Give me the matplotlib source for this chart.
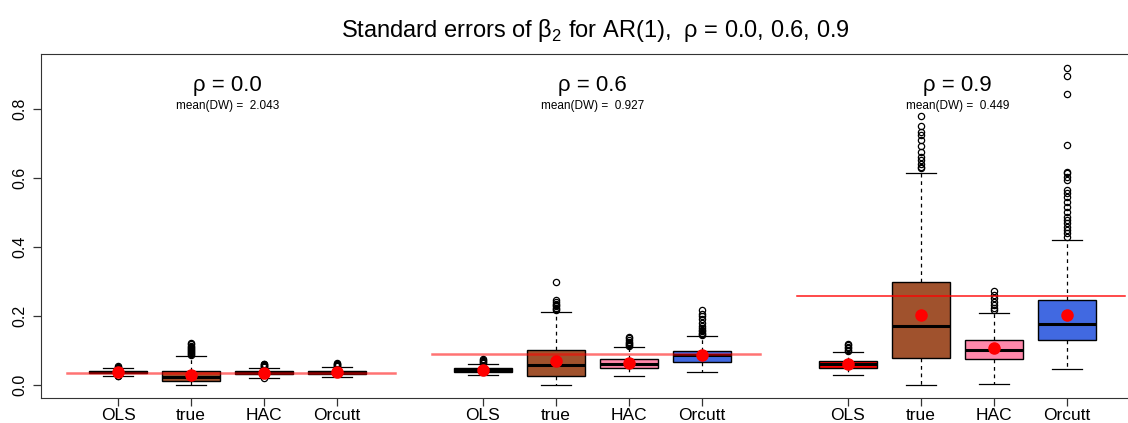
import matplotlib.pyplot as plt

plt.rcParams['font.family'] = ['Liberation Sans', 'DejaVu Sans']
plt.rcParams['mathtext.fontset'] = 'custom'
plt.rcParams['mathtext.rm'] = 'Liberation Sans'

# 数据
methods = ['OLS', 'true', 'HAC', 'Orcutt']
rhos = ['0.0', '0.6', '0.9']
mean_dw = ['2.043', '0.927', '0.449']
ref_line = [0.035, 0.089, 0.258]   # 红色参考线

# 每组四个箱线: (whislo, q1, med, q3, whishi)
box_g1 = [(0.026, 0.035, 0.037, 0.040, 0.049),
          (0.000, 0.012, 0.024, 0.041, 0.085),
          (0.021, 0.031, 0.036, 0.040, 0.050),
          (0.022, 0.033, 0.037, 0.041, 0.052)]
box_g2 = [(0.029, 0.038, 0.043, 0.048, 0.061),
          (0.000, 0.026, 0.058, 0.101, 0.211),
          (0.026, 0.049, 0.061, 0.075, 0.110),
          (0.038, 0.067, 0.087, 0.098, 0.142)]
box_g3 = [(0.029, 0.049, 0.061, 0.070, 0.096),
          (0.000, 0.078, 0.171, 0.298, 0.614),
          (0.004, 0.076, 0.101, 0.130, 0.210),
          (0.046, 0.130, 0.177, 0.246, 0.420)]
means_g1 = [0.037, 0.028, 0.036, 0.037]
means_g2 = [0.043, 0.069, 0.063, 0.086]
means_g3 = [0.060, 0.203, 0.107, 0.202]

outliers_g1 = [[0.045, 0.048, 0.050, 0.052, 0.055, 0.027, 0.025],
               [0.088, 0.090, 0.092, 0.095, 0.098, 0.100, 0.103, 0.106, 0.110, 0.114, 0.118, 0.122],
               [0.052, 0.054, 0.056, 0.058, 0.060, 0.062, 0.019],
               [0.054, 0.056, 0.058, 0.060, 0.062, 0.064]]
outliers_g2 = [[0.063, 0.066, 0.069, 0.072, 0.075],
               [0.216, 0.220, 0.224, 0.228, 0.232, 0.236, 0.240, 0.246, 0.298],
               [0.112, 0.115, 0.118, 0.121, 0.125, 0.130, 0.135, 0.140],
               [0.144, 0.148, 0.152, 0.156, 0.160, 0.165, 0.170, 0.180, 0.190, 0.200, 0.205, 0.217]]
outliers_g3 = [[0.098, 0.102, 0.106, 0.110, 0.115, 0.120],
               [0.628, 0.633, 0.641, 0.652, 0.662, 0.676, 0.693, 0.710, 0.725, 0.734, 0.749, 0.780],
               [0.217, 0.222, 0.232, 0.241, 0.251, 0.261, 0.272],
               [0.430, 0.440, 0.449, 0.459, 0.469, 0.478, 0.488, 0.502, 0.517, 0.531, 0.546,
                0.556, 0.565, 0.594, 0.604, 0.615, 0.618, 0.696, 0.843, 0.896, 0.919]]

colors = ['#ff0000', '#a0522d', '#ff88aa', '#4169e1']

groups = [(box_g1, means_g1, outliers_g1),
          (box_g2, means_g2, outliers_g2),
          (box_g3, means_g3, outliers_g3)]

fig = plt.figure(figsize=(11.28, 4.23), dpi=100)
ax = fig.add_axes([41 / 1128, 25 / 423, 1087 / 1128, 344 / 423])

positions = []
labels = []
for g, (boxes, means, outs) in enumerate(groups):
    start = 1 + 5 * g
    pos = [start + i for i in range(4)]
    stats = []
    for (lo, q1, med, q3, hi), fl in zip(boxes, outs):
        stats.append(dict(whislo=lo, q1=q1, med=med, q3=q3, whishi=hi, fliers=fl))
    bp = ax.bxp(stats, positions=pos, widths=0.8, patch_artist=True,
                boxprops=dict(edgecolor='black', linewidth=1),
                medianprops=dict(color='black', linewidth=2.2),
                whiskerprops=dict(color='black', linewidth=0.9, linestyle=(0, (3, 3))),
                capprops=dict(color='black', linewidth=0.9),
                flierprops=dict(marker='o', markerfacecolor='none', markeredgecolor='black',
                                markersize=4.5, markeredgewidth=0.9))
    for patch, c in zip(bp['boxes'], colors):
        patch.set_facecolor(c)
    lw = 1.8 if g < 2 else 1.1
    al = 0.55 if g < 2 else 0.9
    ax.plot([start - 0.7, start + 3.8], [ref_line[g]] * 2, color='red', lw=lw, alpha=al, zorder=3)
    ax.plot(pos, means, 'o', color='red', markersize=8, zorder=4)
    ax.text(start + 1.5, 0.867, 'ρ = ' + rhos[g], ha='center', va='center', fontsize=16)
    ax.text(start + 1.5, 0.809, 'mean(DW) =  ' + mean_dw[g], ha='center', va='center', fontsize=8.5)
    positions += pos
    labels += methods

ax.set_xlim(-0.055, 14.836)
ax.set_ylim(-0.0377, 0.959)
ax.set_xticks(positions)
ax.set_xticklabels(labels, fontsize=12.5)
ax.set_yticks([0.0, 0.2, 0.4, 0.6, 0.8])
ax.set_yticklabels(['0.0', '0.2', '0.4', '0.6', '0.8'], fontsize=11.5, rotation=90, va='center')
ax.tick_params(length=6, width=0.9, color='#333333')
ax.tick_params(axis='x', pad=1.5)
ax.spines['right'].set_visible(False)
for s in ['left', 'bottom', 'top']:
    ax.spines[s].set_color('#333333')

fig.text(595 / 1128, 1 - 30 / 423, 'Standard errors of β$_2$ for AR(1),  ρ = 0.0, 0.6, 0.9',
         ha='center', va='center', fontsize=17)

fig.savefig('out.png', dpi=100)
